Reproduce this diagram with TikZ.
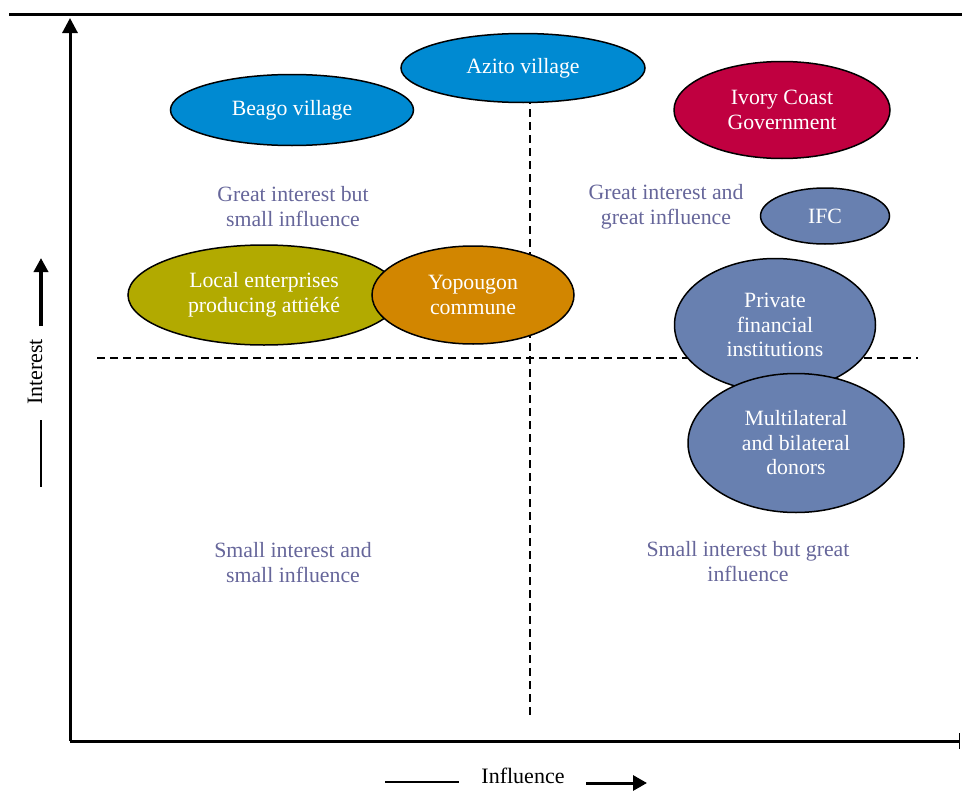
\documentclass[tikz,border=0pt]{standalone}
\usepackage{fontspec}
\setmainfont{Liberation Serif}
\usetikzlibrary{shapes.geometric,arrows.meta}

\definecolor{azul}{RGB}{0,138,210}
\definecolor{carmin}{RGB}{192,0,64}
\definecolor{pizarra}{RGB}{104,128,176}
\definecolor{oliva}{RGB}{178,170,0}
\definecolor{naranja}{RGB}{210,134,0}
\definecolor{textocuad}{RGB}{102,102,154}

\tikzset{
  actor/.style={ellipse, draw=black, line width=1.5pt, text=white, align=center,
    inner sep=0pt, font=\fontsize{21.8}{24.5}\selectfont},
  cuadrante/.style={text=textocuad, align=center, font=\fontsize{21.8}{25}\selectfont},
  eje/.style={line width=3pt},
  divisoria/.style={line width=1.6pt, dash pattern=on 8pt off 5pt},
  etiqueta/.style={font=\fontsize{22}{24}\selectfont},
}

\begin{document}
\begin{tikzpicture}[x=1pt, y=-1pt]
    \useasboundingbox (0,0) rectangle (962,811);

    % Lineas que separan los cuadrantes
    \draw[divisoria] (97,358) -- (918,358);
    \draw[divisoria] (530,70) -- (530,715);

    % Ejes
    \draw[eje] (9,14) -- (962,14);
    \coordinate (origen) at (70,741);
    \coordinate (arriba) at (70,18);
    \coordinate (derecha) at (960,741);
    \draw[eje, -{Triangle[length=15pt,width=15pt]}] (origen) -- (arriba);
    \draw[eje, -{Bar[width=16pt,line width=1.5pt]}] (origen) -- (derecha);

    % Etiqueta del eje vertical
    \node[etiqueta, rotate=90] (interes) at (35,372) {Interest};
    \coordinate (interesA) at (41,420);
    \coordinate (interesB) at (41,487);
    \coordinate (interesC) at (41,326);
    \coordinate (interesD) at (41,258);
    \draw[line width=1.2pt] (interesA) -- (interesB);
    \draw[line width=4pt, -{Triangle[length=14pt,width=14pt]}] (interesC) -- (interesD);

    % Etiqueta del eje horizontal
    \node[etiqueta] (influencia) at (523,776) {Influence};
    \coordinate (influA) at (385,782);
    \coordinate (influB) at (459,782);
    \coordinate (influC) at (586,783);
    \coordinate (influD) at (647,783);
    \draw[line width=1.2pt] (influA) -- (influB);
    \draw[line width=3pt, -{Triangle[length=14pt,width=15pt]}] (influC) -- (influD);

    % Textos de los cuadrantes
    \node[cuadrante] (q1) at (293,207) {Great interest but\\small influence};
    \node[cuadrante] (q2) at (666,207) {Great interest and\\great influence};
    \node[cuadrante] (q3) at (293,563) {Small interest and\\small influence};
    \node[cuadrante] (q4) at (748,562) {Small interest but great\\influence};

    % Actores
    \node[actor, fill=azul, minimum width=243pt, minimum height=71pt] (beago) at (292,110) {Beago village};
    \node[actor, fill=azul, minimum width=244pt, minimum height=69pt] (azito) at (523,68) {Azito village};
    \node[actor, fill=carmin, minimum width=216pt, minimum height=97pt] (gobierno) at (782,110) {Ivory Coast\\Government};
    \node[actor, fill=pizarra, minimum width=129pt, minimum height=56pt] (ifc) at (825,216) {IFC};
    \node[actor, fill=oliva, minimum width=272pt, minimum height=100pt] (locales) at (264,295) {Local enterprises\\producing attiéké};
    \node[actor, fill=naranja, minimum width=202pt, minimum height=98pt] (yopougon) at (473,295) {Yopougon\\commune};
    \node[actor, fill=pizarra, minimum width=201pt, minimum height=133pt] (privadas) at (775,325) {Private\\financial\\institutions};
    \node[actor, fill=pizarra, minimum width=216pt, minimum height=139pt] (donantes) at (796,443) {Multilateral\\and bilateral\\donors};
\end{tikzpicture}
\end{document}
